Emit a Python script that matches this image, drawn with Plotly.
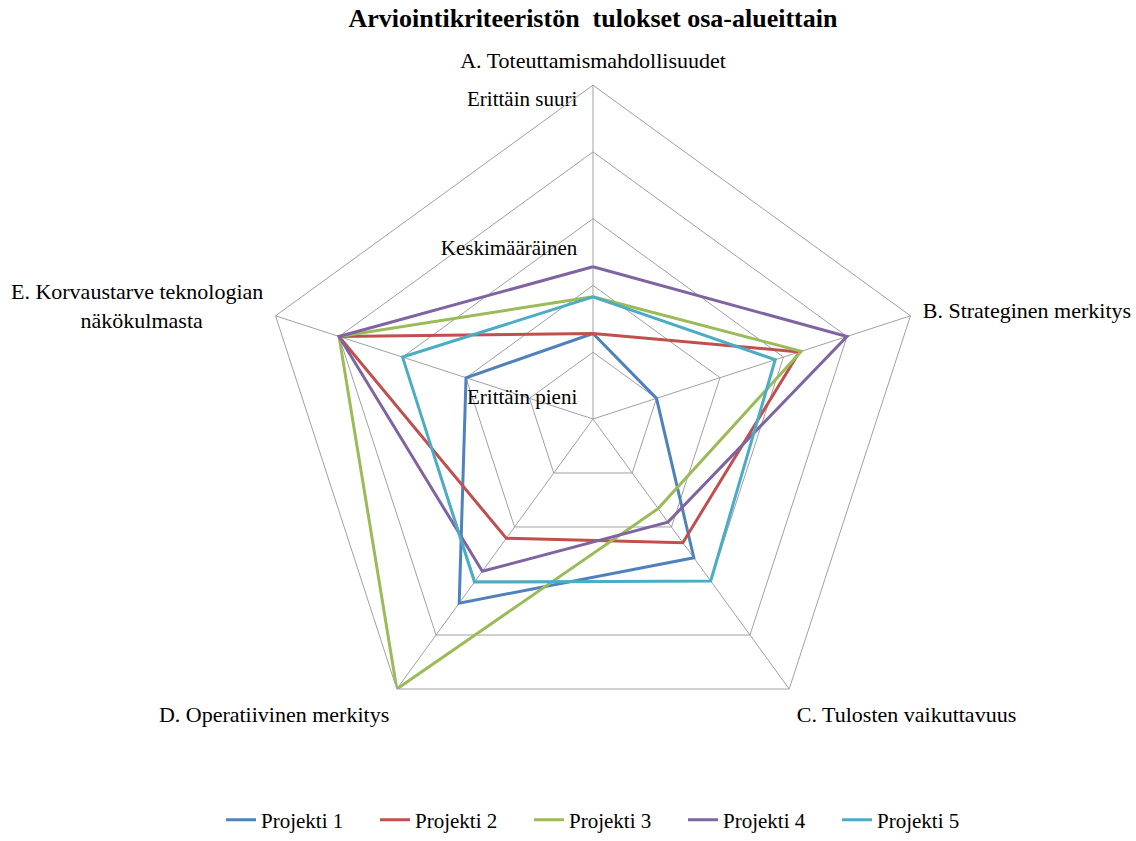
import plotly.graph_objects as go

NBSP = "\u00a0"

# Evaluation criteria (radar axes)
criteria = [
    "A. Toteuttamismahdollisuudet",
    "B. Strateginen merkitys",
    "C. Tulosten vaikuttavuus",
    "D. Operatiivinen merkitys",
    "E. Korvaustarve teknologian<br>näkökulmasta" + NBSP * 11,
]

# Scores per project on a 0-5 scale
projekti_1 = [1.28, 1.0, 2.57, 3.41, 2.0]
projekti_2 = [1.28, 3.25, 2.29, 2.21, 4.0]
projekti_3 = [1.83, 3.28, 1.66, 5.0, 4.0]
projekti_4 = [2.28, 4.0, 1.91, 2.82, 4.0]
projekti_5 = [1.83, 2.87, 3.0, 3.02, 3.0]

series_names = ["Projekti 1", "Projekti 2", "Projekti 3", "Projekti 4", "Projekti 5"]
series_values = [projekti_1, projekti_2, projekti_3, projekti_4, projekti_5]
series_colors = ["#4F81BD", "#C0504D", "#9BBB59", "#8064A2", "#4BACC6"]

# Verbal scale labels shown along the first axis
level_labels = ["Erittäin pieni", "Keskimääräinen", "Erittäin suuri"]
level_r = [0.30, 2.54, 4.77]

SERIF = "Liberation Serif"
GRID = "#A0A0A0"

fig = go.Figure()

for name, vals, color in zip(series_names, series_values, series_colors):
    fig.add_trace(go.Scatterpolar(
        r=vals + vals[:1],
        theta=criteria + criteria[:1],
        mode="lines",
        name=name,
        line=dict(color=color, width=3),
    ))

fig.add_trace(go.Scatterpolar(
    r=level_r,
    theta=[criteria[0]] * len(level_r),
    mode="text",
    text=[t + NBSP * 3 for t in level_labels],
    textposition="middle left",
    textfont=dict(family=SERIF, size=21, color="#000000"),
    showlegend=False,
    hoverinfo="skip",
))

W, H = 1136, 841
cx, cy, rad = 593, 423, 337

fig.update_layout(
    width=W,
    height=H,
    paper_bgcolor="white",
    plot_bgcolor="white",
    margin=dict(l=0, r=0, t=0, b=0),
    font=dict(family=SERIF, size=22, color="#000000"),
    title=dict(
        text="<b>Arviointikriteeristön  tulokset osa-alueittain</b>",
        x=cx / W,
        xanchor="center",
        y=1 - 18 / H,
        yanchor="middle",
        font=dict(family=SERIF, size=26, color="#000000"),
    ),
    polar=dict(
        bgcolor="white",
        gridshape="linear",
        domain=dict(
            x=[(cx - rad) / W, (cx + rad) / W],
            y=[(H - cy - rad) / H, (H - cy + rad) / H],
        ),
        radialaxis=dict(
            range=[0, 5],
            dtick=1,
            showticklabels=False,
            ticks="",
            showline=False,
            gridcolor=GRID,
            gridwidth=1,
            angle=90,
        ),
        angularaxis=dict(
            direction="clockwise",
            rotation=90,
            showline=True,
            linecolor=GRID,
            linewidth=1,
            gridcolor=GRID,
            gridwidth=1,
            ticks="outside",
            ticklen=8,
            tickcolor="rgba(0,0,0,0)",
            tickfont=dict(family=SERIF, size=22, color="#000000"),
        ),
    ),
    legend=dict(
        orientation="h",
        x=606 / W,
        xanchor="center",
        y=(H - 828) / H,
        yanchor="middle",
        font=dict(family=SERIF, size=21, color="#000000"),
        itemwidth=30,
        entrywidth=109,
    ),
)

fig.write_html("out.html")
